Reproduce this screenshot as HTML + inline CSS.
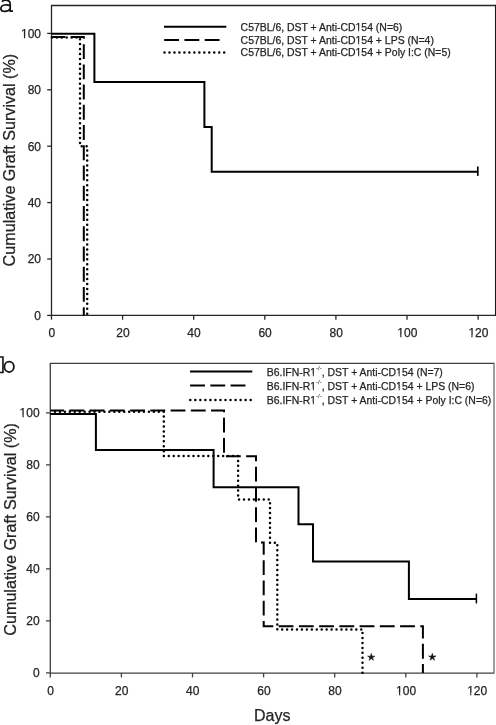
<!DOCTYPE html>
<html><head><meta charset="utf-8"><style>
html,body{margin:0;padding:0;background:#fff;}
body{width:496px;height:725px;overflow:hidden;}
svg{display:block;}
text{font-family:"Liberation Sans",sans-serif;fill:#242424;stroke:#242424;stroke-width:0.25px;}
</style></head><body>
<svg width="496" height="725" viewBox="0 0 496 725" style="will-change:transform">
<rect x="0" y="0" width="496" height="725" fill="#fff"/>
<g fill="none" stroke="#111" stroke-width="1.7">
  <path d="M1.8,1.6 C3.5,0.3 6.5,0 8.3,0.6 C9.8,1.2 10.2,2.4 10.2,4 L10.2,11.2 L13,11.2"/>
  <path d="M10.2,5.6 C8.5,4.9 6.5,4.7 4.6,5 C2.2,5.4 0.9,6.8 0.9,8.4 C0.9,10.2 2.6,11.4 4.8,11.4 C7.2,11.4 9.2,10.3 10.2,8.8"/>
</g>
<path d="M495.6,315.4 L51.5,315.4 L51.5,5.5 L495.6,5.5" fill="none" stroke="#262626" stroke-width="1.3"/>
<line x1="495.6" y1="4.85" x2="495.6" y2="316.05" stroke="#1a1a1a" stroke-width="1.3"/>
<g stroke="#262626" stroke-width="1.3">
<line x1="47.20" y1="315.40" x2="51.5" y2="315.40"/>
<line x1="47.20" y1="259.00" x2="51.5" y2="259.00"/>
<line x1="47.20" y1="202.60" x2="51.5" y2="202.60"/>
<line x1="47.20" y1="146.20" x2="51.5" y2="146.20"/>
<line x1="47.20" y1="89.80" x2="51.5" y2="89.80"/>
<line x1="47.20" y1="33.40" x2="51.5" y2="33.40"/>
<line x1="51.50" y1="315.4" x2="51.50" y2="319.70"/>
<line x1="122.60" y1="315.4" x2="122.60" y2="319.70"/>
<line x1="193.70" y1="315.4" x2="193.70" y2="319.70"/>
<line x1="264.80" y1="315.4" x2="264.80" y2="319.70"/>
<line x1="335.90" y1="315.4" x2="335.90" y2="319.70"/>
<line x1="407.00" y1="315.4" x2="407.00" y2="319.70"/>
<line x1="478.10" y1="315.4" x2="478.10" y2="319.70"/>
</g>
<g font-size="12" text-anchor="end">
<text x="41" y="319.70">0</text>
<text x="41" y="263.30">20</text>
<text x="41" y="206.90">40</text>
<text x="41" y="150.50">60</text>
<text x="41" y="94.10">80</text>
<text x="41" y="37.70">100</text>
</g>
<g font-size="12" text-anchor="middle">
<text x="51.80" y="336.8">0</text>
<text x="122.90" y="336.8">20</text>
<text x="194.00" y="336.8">40</text>
<text x="265.10" y="336.8">60</text>
<text x="336.20" y="336.8">80</text>
<text x="407.30" y="336.8">100</text>
<text x="478.40" y="336.8">120</text>
</g>
<text font-size="16.15" text-anchor="middle" transform="translate(15,160.1) rotate(-90)">Cumulative Graft Survival (%)</text>
<g stroke="#000" stroke-width="2" fill="none">
  <line x1="164" y1="26.8" x2="226.3" y2="26.8"/>
  <line x1="164.2" y1="39.9" x2="220" y2="39.9" stroke-dasharray="14.85 5.39"/>
  <line x1="164.5" y1="52.6" x2="225" y2="52.6" stroke-width="2.5" stroke-dasharray="0 4.975" stroke-linecap="round"/>
</g>
<g font-size="10.45">
  <text x="240.6" y="30.7">C57BL/6, DST + Anti-CD154 (N=6)</text>
  <text x="240.6" y="43.5">C57BL/6, DST + Anti-CD154 + LPS (N=4)</text>
  <text x="240.6" y="56.4">C57BL/6, DST + Anti-CD154 + Poly I:C (N=5)</text>
</g>
<g fill="none" stroke="#000" stroke-width="2">
  <polyline points="51.5,33.8 94.4,33.8 94.4,82.1 204.4,82.1 204.4,127 211.7,127 211.7,171.8 477.8,171.8"/>
  <line x1="477.8" y1="166.5" x2="477.8" y2="175.9" stroke-width="1.7"/>
  <polyline points="51.5,36.9 83.8,36.9 83.8,315.4" stroke-dasharray="14.85 5.39" stroke-dashoffset="0.94"/>
  <polyline points="51.5,37.6 80,37.6 80,146.2 87.2,146.2 87.2,315.4" stroke-width="2.5" stroke-dasharray="0 4.943" stroke-dashoffset="4.54" stroke-linecap="round"/>
</g>
<g fill="none" stroke="#111" stroke-width="1.6">
  <path d="M-0.5,357.0 L2.95,357.0 L2.95,372.5 L-0.5,372.5"/>
  <ellipse cx="9.15" cy="366.85" rx="4.75" ry="5.15" stroke-width="1.75"/>
</g>
<path d="M494.0,673.1 L50.3,673.1 L50.3,363.3 L494.0,363.3" fill="none" stroke="#404040" stroke-width="1.3"/>
<line x1="494.0" y1="362.65" x2="494.0" y2="673.75" stroke="#6a6a6a" stroke-width="1.3"/>
<g stroke="#404040" stroke-width="1.3">
<line x1="46.00" y1="672.90" x2="50.3" y2="672.90"/>
<line x1="46.00" y1="620.90" x2="50.3" y2="620.90"/>
<line x1="46.00" y1="568.90" x2="50.3" y2="568.90"/>
<line x1="46.00" y1="516.90" x2="50.3" y2="516.90"/>
<line x1="46.00" y1="464.90" x2="50.3" y2="464.90"/>
<line x1="46.00" y1="412.90" x2="50.3" y2="412.90"/>
<line x1="50.30" y1="673.1" x2="50.30" y2="677.40"/>
<line x1="121.40" y1="673.1" x2="121.40" y2="677.40"/>
<line x1="192.50" y1="673.1" x2="192.50" y2="677.40"/>
<line x1="263.60" y1="673.1" x2="263.60" y2="677.40"/>
<line x1="334.70" y1="673.1" x2="334.70" y2="677.40"/>
<line x1="405.80" y1="673.1" x2="405.80" y2="677.40"/>
<line x1="476.90" y1="673.1" x2="476.90" y2="677.40"/>
</g>
<g font-size="12" text-anchor="end">
<text x="39.6" y="677.20">0</text>
<text x="39.6" y="625.20">20</text>
<text x="39.6" y="573.20">40</text>
<text x="39.6" y="521.20">60</text>
<text x="39.6" y="469.20">80</text>
<text x="39.6" y="417.20">100</text>
</g>
<g font-size="12" text-anchor="middle">
<text x="50.60" y="694.5">0</text>
<text x="121.70" y="694.5">20</text>
<text x="192.80" y="694.5">40</text>
<text x="263.90" y="694.5">60</text>
<text x="335.00" y="694.5">80</text>
<text x="406.10" y="694.5">100</text>
<text x="477.20" y="694.5">120</text>
</g>
<text font-size="16.15" text-anchor="middle" transform="translate(15.8,529.4) rotate(-90)">Cumulative Graft Survival (%)</text>
<text font-size="16" text-anchor="middle" x="272.3" y="721.1">Days</text>
<g stroke="#000" stroke-width="2" fill="none">
  <line x1="190" y1="371.6" x2="252.3" y2="371.6"/>
  <line x1="190.1" y1="385.6" x2="245.6" y2="385.6" stroke-dasharray="14.85 5.39"/>
  <line x1="190.3" y1="400" x2="251" y2="400" stroke-width="2.5" stroke-dasharray="0 5.03" stroke-linecap="round"/>
</g>
<g font-size="10.45">
  <text x="266.8" y="375.5">B6.IFN-R1<tspan font-size="6" dy="-5.4" fill="#777" stroke="#777">-/-</tspan><tspan dy="5.4">, DST + Anti-CD154 (N=7)</tspan></text>
  <text x="266.8" y="389.6">B6.IFN-R1<tspan font-size="6" dy="-5.4" fill="#777" stroke="#777">-/-</tspan><tspan dy="5.4">, DST + Anti-CD154 + LPS (N=6)</tspan></text>
  <text x="266.8" y="403.7">B6.IFN-R1<tspan font-size="6" dy="-5.4" fill="#777" stroke="#777">-/-</tspan><tspan dy="5.4">, DST + Anti-CD154 + Poly I:C (N=6)</tspan></text>
</g>
<g fill="none" stroke="#000" stroke-width="2">
  <polyline points="50.3,414 95.9,414 95.9,449.9 213.6,449.9 213.6,487.2 298.5,487.2 298.5,524.2 313,524.2 313,561.4 408.9,561.4 408.9,598.9 476.4,598.9"/>
  <line x1="476.4" y1="593.6" x2="476.4" y2="603.4" stroke-width="1.5"/>
  <polyline points="50.3,410.4 224,410.4 224,456.3 256,456.3 256,542.6 263.7,542.6 263.7,626.2 422.9,626.2 422.9,673" stroke-dasharray="14.85 5.39" stroke-dashoffset="1.146"/>
  <polyline points="50.3,411.7 163.8,411.7 163.8,456.1 238.1,456.1 238.1,499.5 270,499.5 270,542.8 277.3,542.8 277.3,629.4 362.5,629.4 362.5,672.9" stroke-width="2.5" stroke-dasharray="0 4.943" stroke-dashoffset="0.252" stroke-linecap="round"/>
</g>
<polygon points="371.25,653.50 372.01,656.25 374.86,656.13 372.49,657.70 373.48,660.37 371.25,658.60 369.02,660.37 370.01,657.70 367.64,656.13 370.49,656.25" fill="#111" stroke="#111" stroke-width="0.6" stroke-linejoin="round"/>
<polygon points="432.30,653.35 433.06,656.10 435.91,655.98 433.54,657.55 434.53,660.22 432.30,658.45 430.07,660.22 431.06,657.55 428.69,655.98 431.54,656.10" fill="#111" stroke="#111" stroke-width="0.6" stroke-linejoin="round"/>
<g fill="#fff">
<rect x="21.27" y="36.41" width="2.66" height="2.89"/>
<rect x="25.11" y="36.41" width="2.71" height="2.89"/>
<rect x="397.58" y="335.51" width="2.66" height="2.79"/>
<rect x="401.42" y="335.51" width="2.71" height="2.79"/>
<rect x="468.68" y="335.51" width="2.66" height="2.79"/>
<rect x="472.52" y="335.51" width="2.71" height="2.79"/>
<rect x="355.85" y="29.53" width="2.28" height="2.77"/>
<rect x="359.16" y="29.53" width="2.41" height="2.77"/>
<rect x="355.85" y="42.33" width="2.28" height="2.97"/>
<rect x="359.16" y="42.33" width="2.41" height="2.97"/>
<rect x="355.85" y="54.83" width="2.28" height="2.87"/>
<rect x="359.16" y="54.83" width="2.41" height="2.87"/>
<rect x="19.87" y="415.71" width="2.66" height="2.79"/>
<rect x="23.71" y="415.71" width="2.71" height="2.79"/>
<rect x="396.38" y="692.71" width="2.66" height="3.09"/>
<rect x="400.22" y="692.71" width="2.71" height="3.09"/>
<rect x="467.48" y="692.71" width="2.66" height="3.09"/>
<rect x="471.32" y="692.71" width="2.71" height="3.09"/>
<rect x="310.58" y="374.33" width="2.28" height="2.97"/>
<rect x="313.89" y="374.33" width="2.41" height="2.97"/>
<rect x="396.41" y="374.33" width="2.28" height="2.97"/>
<rect x="399.71" y="374.33" width="2.41" height="2.97"/>
<rect x="310.58" y="388.43" width="2.28" height="2.87"/>
<rect x="313.89" y="388.43" width="2.41" height="2.87"/>
<rect x="396.41" y="388.43" width="2.28" height="2.87"/>
<rect x="399.71" y="388.43" width="2.41" height="2.87"/>
<rect x="310.58" y="402.53" width="2.28" height="2.77"/>
<rect x="313.89" y="402.53" width="2.41" height="2.77"/>
<rect x="396.41" y="402.53" width="2.28" height="2.77"/>
<rect x="399.71" y="402.53" width="2.41" height="2.77"/>
</g>
</svg>
</body></html>
